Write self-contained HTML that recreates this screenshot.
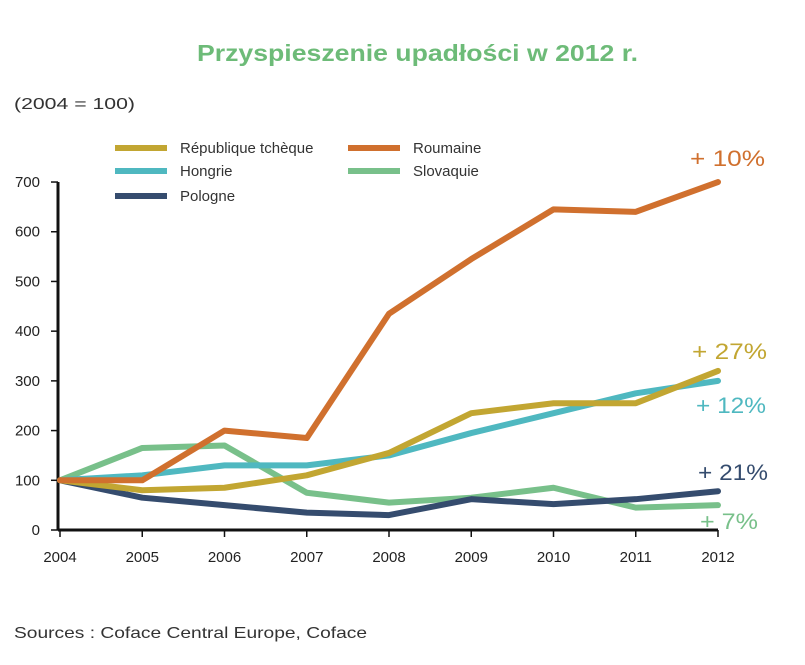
<!DOCTYPE html>
<html><head><meta charset="utf-8"><style>
body{margin:0;background:#fff;}
svg{display:block;font-family:"Liberation Sans",sans-serif;}
</style></head><body>
<svg id="chart" width="805" height="665">
<text x="197" y="61" font-size="23" font-weight="bold" fill="#6dbb78" textLength="441" lengthAdjust="spacingAndGlyphs">Przyspieszenie upadłości w 2012 r.</text>
<text x="14" y="109" font-size="16" fill="#333" textLength="121" lengthAdjust="spacingAndGlyphs">(2004 = 100)</text>
<text x="14" y="638" font-size="16" fill="#333" textLength="353" lengthAdjust="spacingAndGlyphs">Sources : Coface Central Europe, Coface</text>
<g id="axes"></g><g id="lines"></g><g id="legend"></g><g id="labels"></g>
</svg>
<script>
const years=["2004","2005","2006","2007","2008","2009","2010","2011","2012"];
const yTicks=[0,100,200,300,400,500,600,700];
const seriesNames=["République tchèque","Hongrie","Pologne","Roumaine","Slovaquie"];
const czech=[100,80,85,110,155,235,255,255,320];
const hungary=[100,110,130,130,150,195,235,275,300];
const poland=[100,65,50,35,30,62,52,62,78];
const romania=[100,100,200,185,435,545,645,640,700];
const slovakia=[100,165,170,75,55,65,85,45,50];
const endLabels=["+ 27%","+ 12%","+ 21%","+ 10%","+ 7%"];
const colors=["#c2a632","#4fb8c0","#354c6e","#d0702e","#78c08a"];
const NS="http://www.w3.org/2000/svg";
const x=i=>60+i*82.25;
const y=v=>530-v*0.4971;
function mk(tag,attrs,parent){const e=document.createElementNS(NS,tag);for(const k in attrs)e.setAttribute(k,attrs[k]);parent.appendChild(e);return e;}
const ax=document.getElementById('axes');
let yl=mk('line',{x1:58,x2:58,y1:y(700),y2:y(0),stroke:'#111','stroke-width':3},ax);


let xl=mk('line',{x1:58,x2:x(8),y1:y(0),y2:y(0),stroke:'#111','stroke-width':3},ax);


yTicks.forEach(v=>{
 mk('line',{x1:51,x2:58,y1:y(v),y2:y(v),stroke:'#111','stroke-width':1.5},ax);
 const t=mk('text',{x:40,y:y(v)+5,'text-anchor':'end','font-size':15,fill:'#222'},ax);
 t.textContent=v;
 
 
});
years.forEach((yr,i)=>{
 mk('line',{x1:x(i),x2:x(i),y1:y(0),y2:y(0)+7,stroke:'#111','stroke-width':1.5},ax);
 const t=mk('text',{x:x(i),y:562,'text-anchor':'middle','font-size':15,fill:'#222'},ax);
 t.textContent=yr;
 
 
});
const data=[czech,hungary,poland,romania,slovakia];
const order=[4,2,1,0,3];
const lg=document.getElementById('lines');
order.forEach(s=>{
 const p=mk('polyline',{points:data[s].map((v,i)=>x(i)+','+y(v)).join(' '),fill:'none',stroke:colors[s],'stroke-width':6,'stroke-linejoin':'round','stroke-linecap':'round'},lg);
 
 
});
const leg=document.getElementById('legend');
const lpos=[[115,148],[115,171],[115,196],[348,148],[348,171]];
seriesNames.forEach((n,s)=>{
 const [lx,ly]=lpos[s];
 mk('rect',{x:lx,y:ly-3,width:52,height:6,fill:colors[s]},leg);
 const t=mk('text',{x:lx+65,y:ly+5,'font-size':15,fill:'#333'},leg);
 t.textContent=n;
 
 
});
const lab=document.getElementById('labels');
const lp=[[692,359],[696,413],[698,480],[690,166],[700,529]];
const lw=[75,70,70,75,58];
endLabels.forEach((s,i)=>{
 const t=mk('text',{x:lp[i][0],y:lp[i][1],'font-size':22,fill:colors[i],textLength:lw[i],lengthAdjust:'spacingAndGlyphs'},lab);
 t.textContent=s;
 
 
});
</script>
</body></html>
